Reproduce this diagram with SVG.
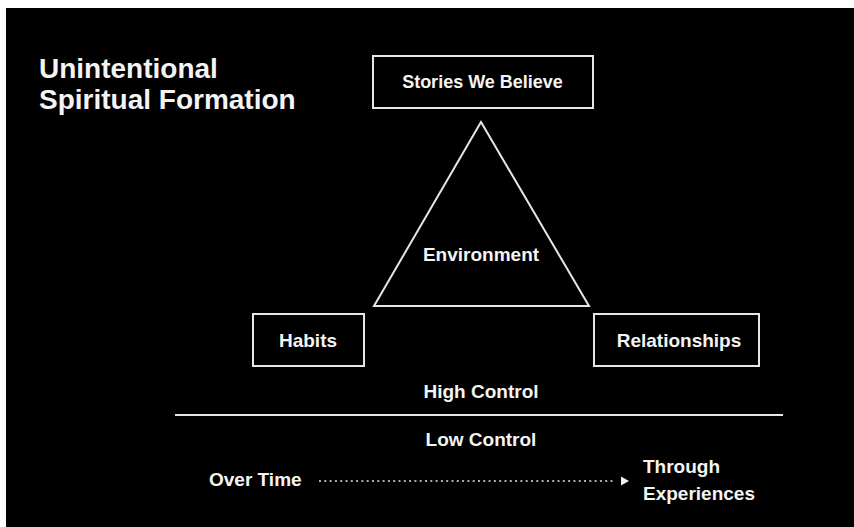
<svg xmlns="http://www.w3.org/2000/svg" width="854" height="527" viewBox="0 0 854 527">
<style>
text{font-family:"Liberation Sans",Arial,Helvetica,sans-serif;font-weight:bold;fill:#f4f4f4;font-size:19px}
.c{text-anchor:middle}
.box{fill:none;stroke:#e6e6e6;stroke-width:2}
.ln{stroke:#e6e6e6;stroke-width:2;fill:none}
</style>
<rect x="0" y="0" width="854" height="527" fill="#ffffff"/>
<rect x="6" y="8" width="848" height="519" fill="#000000"/>
<g id="title">
<text x="39" y="78" style="font-size:28px">Unintentional</text>
<text x="39" y="109" style="font-size:28px">Spiritual Formation</text>
</g>
<g id="connectors">
<line class="ln" x1="175" y1="415" x2="783" y2="415"/>
<line x1="319" y1="481" x2="613" y2="481" stroke="#e6e6e6" stroke-width="1.6" stroke-dasharray="2 3.3"/>
<polygon points="621,476.5 629,481 621,485.5" fill="#f0f0f0"/>
</g>
<g id="stories">
<rect class="box" x="373" y="56" width="220" height="52"/>
<text class="c" x="482.5" y="88" style="font-size:18px">Stories We Believe</text>
</g>
<g id="environment">
<polygon class="box" points="481,122 374,306 589,306"/>
<text class="c" x="481" y="261">Environment</text>
</g>
<g id="habits">
<rect class="box" x="253" y="314" width="111" height="52"/>
<text class="c" x="308" y="347">Habits</text>
</g>
<g id="relationships">
<rect class="box" x="594" y="314" width="165" height="52"/>
<text class="c" x="679" y="347">Relationships</text>
</g>
<g id="labels">
<text class="c" x="481" y="398">High Control</text>
<text class="c" x="481" y="446">Low Control</text>
<text x="209" y="486">Over Time</text>
<text x="643" y="473">Through</text>
<text x="643" y="500">Experiences</text>
</g>
</svg>
